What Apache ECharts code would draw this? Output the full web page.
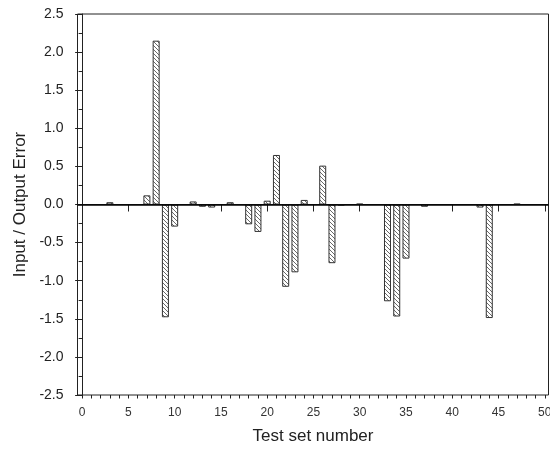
<!DOCTYPE html>
<html>
<head>
<meta charset="utf-8">
<script src="https://cdn.jsdelivr.net/npm/echarts@6/dist/echarts.min.js"></script>
<style>
  html, body { margin: 0; padding: 0; background: #fff; }
  #chart { width: 550px; height: 450px; }
</style>
</head>
<body>
<div id="chart"></div>
<script>
// test set numbers that have a bar, and their error values
const testSets = [3, 7, 8, 9, 10, 12, 13, 14, 16, 18, 19, 20, 21, 22, 23, 24, 26, 27, 28, 30, 33, 34, 35, 37, 43, 44, 47]
const errors = [0.03, 0.12, 2.15, -1.48, -0.29, 0.04, -0.03, -0.04, 0.03, -0.26, -0.36, 0.05, 0.65, -1.08, -0.89, 0.06, 0.51, -0.77, -0.01, 0.01, -1.27, -1.47, -0.71, -0.03, -0.04, -1.49, 0.01]

const xMajorTicks = [0, 5, 10, 15, 20, 25, 30, 35, 40, 45, 50]
const xMinorTicks = []
for (let i = 0; i <= 50; i++) xMinorTicks.push(i)

// hatch fill: diagonal "\" lines
const makeHatch = () => {
  const c = document.createElement('canvas')
  c.width = 4
  c.height = 4
  const ctx = c.getContext('2d')
  ctx.fillStyle = '#fff'
  ctx.fillRect(0, 0, 4, 4)
  ctx.strokeStyle = '#6a6a6a'
  ctx.lineWidth = 1
  ctx.beginPath()
  ctx.moveTo(-1, -1); ctx.lineTo(5, 5)
  ctx.moveTo(-1, 3); ctx.lineTo(1, 5)
  ctx.moveTo(3, -1); ctx.lineTo(5, 1)
  ctx.stroke()
  return c
}

const chart = echarts.init(document.getElementById('chart'))
const font = 'Liberation Sans, Arial, sans-serif'

const option = {
  animation: false,
  grid: {
    left: 77.5,
    right: 1.5,
    top: 14,
    bottom: 55,
    outerBoundsMode: 'none',
    containLabel: false,
    show: true,
    borderColor: '#222',
    borderWidth: 1
  },
  xAxis: [
    {
      type: 'value',
      min: -0.5,
      max: 50.4,
      name: 'Test set number',
      nameLocation: 'middle',
      nameGap: 33,
      nameTextStyle: { fontFamily: font, fontSize: 17, color: '#222' },
      axisLine: { show: true, lineStyle: { color: '#222' } },
      axisTick: { show: true, length: 7, customValues: xMajorTicks, lineStyle: { color: '#222' } },
      axisLabel: { customValues: xMajorTicks, fontFamily: font, fontSize: 12, color: '#333', margin: 12 },
      splitLine: { show: false }
    },
    {
      type: 'value',
      position: 'bottom',
      min: -0.5,
      max: 50.4,
      axisLine: { show: false },
      axisTick: { show: true, length: 3.5, customValues: xMinorTicks, lineStyle: { color: '#222' } },
      axisLabel: { show: false },
      splitLine: { show: false }
    }
  ],
  yAxis: {
    type: 'value',
    min: -2.5,
    max: 2.5,
    interval: 0.5,
    name: 'Input / Output Error',
    nameLocation: 'middle',
    nameGap: 46,
    nameTextStyle: { fontFamily: font, fontSize: 17, color: '#222' },
    axisLine: { show: true, lineStyle: { color: '#222' } },
    axisTick: { show: true, length: 7, lineStyle: { color: '#222' } },
    minorTick: { show: true, splitNumber: 2, length: 3.5, lineStyle: { color: '#222' } },
    axisLabel: {
      fontFamily: font,
      fontSize: 14,
      color: '#222',
      margin: 14,
      formatter: v => v.toFixed(1)
    },
    splitLine: { show: false }
  },
  series: [
    {
      type: 'bar',
      barWidth: 7,
      data: testSets.map((x, i) => [x, errors[i]]),
      itemStyle: {
        color: { image: makeHatch(), repeat: 'repeat' },
        borderColor: '#333',
        borderWidth: 1
      },
      markLine: {
        silent: true,
        symbol: 'none',
        label: { show: false },
        lineStyle: { color: '#000', width: 1.5, type: 'solid' },
        data: [{ yAxis: 0 }]
      }
    }
  ]
}

chart.setOption(option)
</script>
</body>
</html>
